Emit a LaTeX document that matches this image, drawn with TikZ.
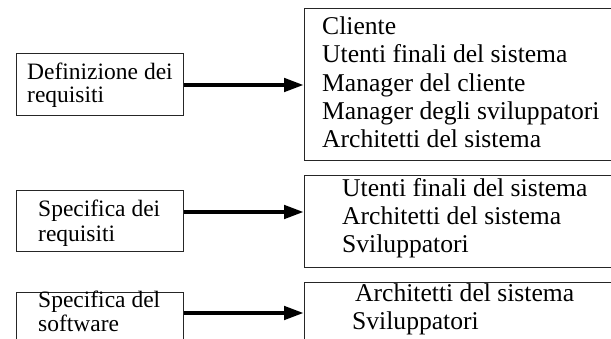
\documentclass[tikz,border=0pt]{standalone}
\usepackage{fontspec}
\setmainfont{Liberation Serif}
\usetikzlibrary{arrows.meta}
\begin{document}
\begin{tikzpicture}[x=1pt,y=-1pt,
  box/.style={draw=black!85, line width=1pt, inner sep=0pt, anchor=north west},
  ltext/.style={anchor=base west, inner sep=0pt, font=\fontsize{23.5}{24}\selectfont},
  rtext/.style={anchor=base west, inner sep=0pt, font=\fontsize{25.6}{28}\selectfont},
  arr/.style={line width=4.5pt, -{Triangle[length=20pt,width=13pt]}}]
\clip (0,0) rectangle (611,339);
% left boxes
\node[box, minimum width=167pt, minimum height=62pt] (l1) at (16,53) {};
\node[box, minimum width=167pt, minimum height=61pt] (l2) at (16,190) {};
\node[box, minimum width=167pt, minimum height=62pt] (l3) at (16,292) {};
% right boxes
\node[box, minimum width=320pt, minimum height=152pt] (r1) at (304,8) {};
\node[box, minimum width=320pt, minimum height=92pt] (r2) at (304,175) {};
\node[box, minimum width=320pt, minimum height=80pt] (r3) at (304,282) {};
% left texts
\node[ltext] (t11) at (27,80) {Definizione dei};
\node[ltext] (t12) at (27,103) {requisiti};
\node[ltext] (t21) at (38,217) {Specifica dei};
\node[ltext] (t22) at (38,242) {requisiti};
\node[ltext] (t31) at (38,308) {Specifica del};
\node[ltext] (t32) at (38,332) {software};
% right texts
\node[rtext] (a1) at (322,35) {Cliente};
\node[rtext] (a2) at (322,63) {Utenti finali del sistema};
\node[rtext] (a3) at (322,92) {Manager del cliente};
\node[rtext] (a4) at (322,120) {Manager degli sviluppatori};
\node[rtext] (a5) at (322,148) {Architetti del sistema};
\node[rtext] (b1) at (342,197) {Utenti finali del sistema};
\node[rtext] (b2) at (342,225) {Architetti del sistema};
\node[rtext] (b3) at (342,253) {Sviluppatori};
\node[rtext] (c1) at (355,302) {Architetti del sistema};
\node[rtext] (c2) at (352,330) {Sviluppatori};
% arrows
\draw[arr] (l1.east |- 0,85) -- (r1.west |- 0,85);
\draw[arr] (l2.east |- 0,212) -- (r2.west |- 0,212);
\draw[arr] (l3.east |- 0,313) -- (r3.west |- 0,313);
\end{tikzpicture}
\end{document}
